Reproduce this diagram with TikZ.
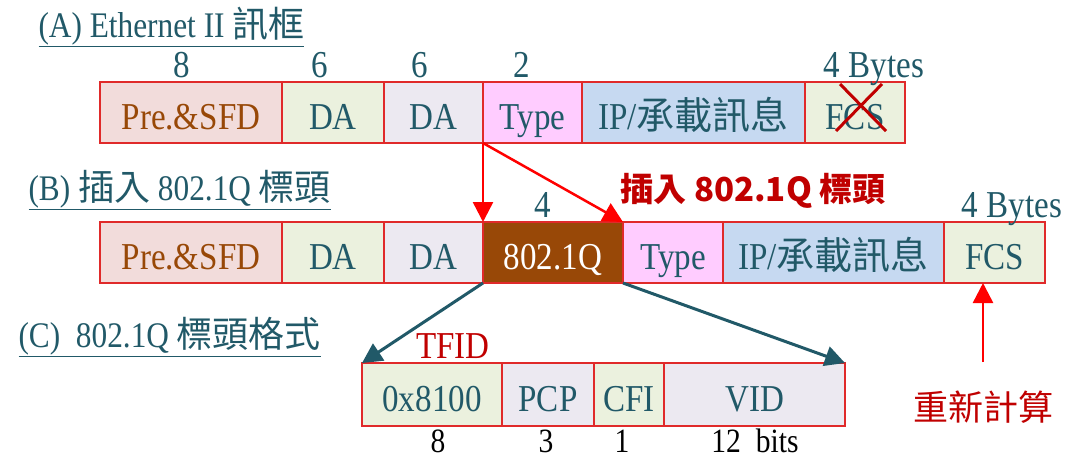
\documentclass[tikz,border=0pt]{standalone}
\usepackage{fontspec}
\setmainfont{Liberation Serif}[FakeStretch=0.87]
\newfontfamily\cjk{Noto Sans CJK TC}
\usetikzlibrary{positioning}
\usetikzlibrary{arrows.meta}

\definecolor{boxred}{HTML}{E02A2A}
\definecolor{darkred}{HTML}{C00000}
\definecolor{tealtext}{HTML}{215968}
\definecolor{brownfld}{HTML}{984807}
\definecolor{prefill}{HTML}{F2DCDB}
\definecolor{greenfill}{HTML}{EBF1DE}
\definecolor{lilafill}{HTML}{ECE9F1}
\definecolor{pinkfill}{HTML}{FFCCFF}
\definecolor{bluefill}{HTML}{C6D9F1}

\tikzset{
  field/.style={draw=boxred, line width=1.5pt, minimum height=61pt, inner sep=0pt,
    outer sep=0pt, text height=33pt, text depth=0pt, text=tealtext,
    font=\fontsize{38}{38}\selectfont},
  size/.style={anchor=base, text=tealtext, font=\fontsize{38}{38}\selectfont},
  bits/.style={anchor=base, text=black, font=\fontsize{34}{34}\selectfont},
  title/.style={anchor=base west, text=tealtext, font=\fontsize{36}{36}\selectfont},
  redarrow/.style={red, line width=2.5pt, -{Triangle[length=20pt,width=20pt]}},
  tealarrow/.style={tealtext, line width=3pt, -{Triangle[length=20pt,width=20pt]}},
}

\begin{document}
\begin{tikzpicture}[x=1pt,y=-1pt]
\useasboundingbox (0,0) rectangle (1070,459);

% (A) Ethernet II
\node[title] (ta) at (35,37) {\underline{(A) Ethernet II {\cjk 訊框}}};
\node[field, fill=prefill, text=brownfld, minimum width=182pt, anchor=north west] (a1) at (100,82) {Pre.\&SFD};
\node[field, fill=greenfill, minimum width=102pt, right=0pt of a1] (a2) {DA};
\node[field, fill=lilafill, minimum width=99pt, right=0pt of a2] (a3) {DA};
\node[field, fill=pinkfill, minimum width=99pt, right=0pt of a3] (a4) {Type};
\node[field, fill=bluefill, minimum width=223pt, right=0pt of a4] (a5) {IP/{\cjk 承載訊息}};
\node[field, fill=greenfill, minimum width=100pt, right=0pt of a5] (a6) {FCS};
\node[size] (sa1) at (182,77) {8};
\node[size] (sa2) at (320,77) {6};
\node[size] (sa3) at (420,77) {6};
\node[size] (sa4) at (522,77) {2};
\node[size] (sa6) at (874,77) {4 Bytes};
\draw[darkred, line width=3pt] (840,84) -- (886,131);
\draw[darkred, line width=3pt] (882,84) -- (836,131);

% (B) 802.1Q inserted
\node[title] (tb) at (25,200) {\underline{(B) {\cjk 插入} 802.1Q {\cjk 標頭}}};
\node[anchor=base, text=darkred, font=\cjk\bfseries\fontsize{33}{33}\selectfont] (ins) at (753,201) {插入 802.1Q 標頭};
\node[field, fill=prefill, text=brownfld, minimum width=182pt, anchor=north west] (b1) at (100,222) {Pre.\&SFD};
\node[field, fill=greenfill, minimum width=102pt, right=0pt of b1] (b2) {DA};
\node[field, fill=lilafill, minimum width=99pt, right=0pt of b2] (b3) {DA};
\node[field, fill=brownfld, text=white, minimum width=140pt, right=0pt of b3] (b4) {802.1Q};
\node[field, fill=pinkfill, minimum width=100pt, right=0pt of b4] (b5) {Type};
\node[field, fill=bluefill, minimum width=221pt, right=0pt of b5] (b6) {IP/{\cjk 承載訊息}};
\node[field, fill=greenfill, minimum width=101pt, right=0pt of b6] (b7) {FCS};
\node[size] (sb4) at (543,217) {4};
\node[size] (sb7) at (1012,217) {4 Bytes};

% (C) tag format
\node[title] (tc) at (15,347) {\underline{(C)\ \ 802.1Q {\cjk 標頭格式}}};
\node[anchor=base, text=darkred, font=\fontsize{38}{38}\selectfont] (tfid) at (453,358) {TFID};
\node[field, fill=greenfill, minimum width=140pt, minimum height=63pt, anchor=north west] (c1) at (362,363) {0x8100};
\node[field, fill=lilafill, minimum width=92pt, minimum height=63pt, right=0pt of c1] (c2) {PCP};
\node[field, fill=greenfill, minimum width=70pt, minimum height=63pt, right=0pt of c2] (c3) {CFI};
\node[field, fill=lilafill, minimum width=181pt, minimum height=63pt, right=0pt of c3] (c4) {VID};
\node[bits] (bc1) at (438,452) {8};
\node[bits] (bc2) at (546,452) {3};
\node[bits] (bc3) at (622,452) {1};
\node[bits] (bc4) at (755,452) {12\ \ bits};

% connectors
\draw[redarrow] (a4.south west) -- (b4.north west);
\draw[redarrow] (a4.south west) -- (b4.north east);
\draw[tealarrow] (b4.south west) -- (c1.north west);
\draw[tealarrow] (b4.south east) -- (c4.north east);

\coordinate (rc) at (983,362);
\node[anchor=base, text=darkred, font=\cjk\fontsize{35}{35}\selectfont] (recalc) at (983,420) {重新計算};
\draw[redarrow] (rc) -- (rc |- b7.south);

\end{tikzpicture}
\end{document}
